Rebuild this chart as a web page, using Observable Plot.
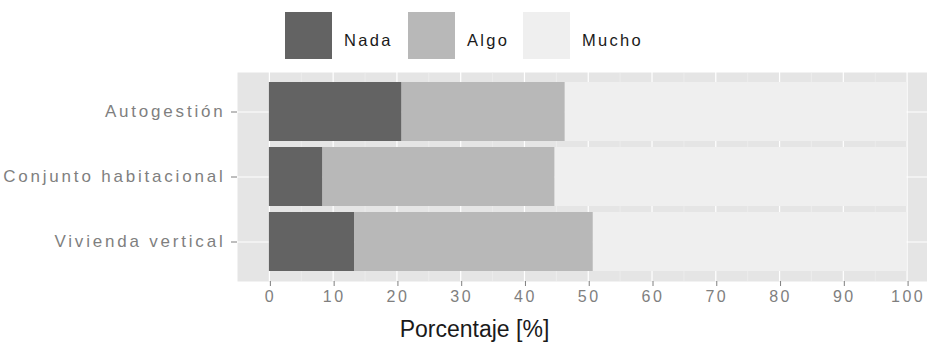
<!DOCTYPE html>
<html>
<head>
<meta charset="utf-8">
<script src="https://cdn.jsdelivr.net/npm/d3@7"></script>
<script src="https://cdn.jsdelivr.net/npm/@observablehq/plot@0.6"></script>
<style>
  body { margin: 0; background: white; font-family: "Liberation Sans", Arial, sans-serif; }
  #wrap { width: 927px; height: 347px; overflow: hidden; }
  #legend { height: 64px; position: relative; }
  .lg-item { position: absolute; top: 12px; display: flex; align-items: center; }
  .lg-swatch { width: 47px; height: 47px; }
  .lg-label { margin-left: 12px; font-size: 16.5px; letter-spacing: 2.3px; color: #1a1a1a; padding-top: 9px; }
  .axy text { letter-spacing: 2.8px; }
  .axx text { letter-spacing: 2.5px; }
</style>
</head>
<body>
<div id="wrap">
  <div id="legend"></div>
  <div id="chart"></div>
</div>
<script>
const categories = ["Autogestión", "Conjunto habitacional", "Vivienda vertical"];
const levels = ["Nada", "Algo", "Mucho"];
const nada = [20.8, 8.4, 13.4];
const algo = [25.6, 36.4, 37.4];
const mucho = [53.6, 55.2, 49.2];
const xTicks = [0, 10, 20, 30, 40, 50, 60, 70, 80, 90, 100];
const xMinor = [5, 15, 25, 35, 45, 55, 65, 75, 85, 95];
const colors = ["#636363", "#B8B8B8", "#EFEFEF"];
const xTitle = "Porcentaje [%]";

const series = [nada, algo, mucho];
const rows = [];
categories.forEach((c, i) => {
  levels.forEach((l, j) => rows.push({categoria: c, nivel: l, valor: series[j][i]}));
});

// legend (HTML, above the SVG)
const legend = document.getElementById("legend");
const legendLeft = [285, 408, 523];
levels.forEach((l, j) => {
  const item = document.createElement("div");
  item.className = "lg-item";
  item.style.left = legendLeft[j] + "px";
  const sw = document.createElement("div");
  sw.className = "lg-swatch";
  sw.style.background = colors[j];
  const lab = document.createElement("div");
  lab.className = "lg-label";
  lab.textContent = l;
  item.append(sw, lab);
  legend.append(item);
});

const font = "'Liberation Sans', Arial, sans-serif";
const chart = Plot.plot({
  width: 927,
  height: 283,
  marginTop: 8,
  marginBottom: 66,
  marginLeft: 237,
  marginRight: 0,
  style: {fontFamily: font, background: "white", overflow: "visible"},
  x: {domain: [-5, 103.2]},
  y: {type: "band", domain: categories, paddingInner: 0.1, paddingOuter: 0.15},
  color: {domain: levels, range: colors},
  marks: [
    Plot.frame({fill: "#E5E5E5", stroke: null}),
    Plot.gridX(xMinor, {stroke: "#F2F2F2", strokeOpacity: 1, strokeWidth: 0.6}),
    Plot.gridX(xTicks, {stroke: "white", strokeOpacity: 1, strokeWidth: 1.2}),
    Plot.gridY({stroke: "white", strokeOpacity: 1, strokeWidth: 1.2}),
    Plot.barX(rows, Plot.stackX({
      x: "valor", y: "categoria", fill: "nivel", order: levels
    })),
    Plot.axisX(xTicks, {
      tickSize: 5, tickPadding: 4, fontSize: 16, fill: "#7F7F7F", stroke: "#7F7F7F",
      label: null, className: "axx", dx: 1
    }),
    Plot.axisY({
      tickSize: 6, tickPadding: 6, fontSize: 17, fill: "#7F7F7F", stroke: "#7F7F7F",
      label: null, className: "axy"
    }),
    Plot.text([xTitle], {
      frameAnchor: "bottom-left", dx: 237, dy: 48, text: d => d,
      textAnchor: "middle", fontSize: 23, fill: "#1a1a1a", lineAnchor: "middle"
    })
  ]
});
document.getElementById("chart").append(chart);
</script>
</body>
</html>
